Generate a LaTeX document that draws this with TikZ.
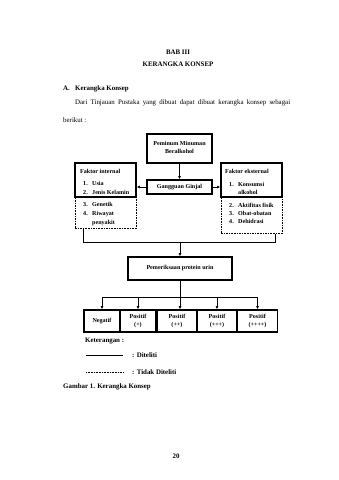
\documentclass[tikz,border=0pt]{standalone}
\usepackage{fontspec}
\setmainfont{Liberation Serif}
\usetikzlibrary{arrows.meta}
\begin{document}
\begin{tikzpicture}[x=1pt,y=-1pt,
  solidbox/.style={draw, line width=1.3pt, inner sep=0pt},
  dashbox/.style={draw, line width=1pt, dash pattern=on 1.6pt off 1pt, inner sep=0pt},
  conn/.style={line width=0.65pt},
  arr/.style={conn, -{Latex[length=3.2pt,width=2.8pt]}},
  body/.style={font=\fontsize{6.9}{8}\selectfont, inner sep=0pt},
  bodyb/.style={font=\fontsize{6.9}{8}\selectfont\bfseries, inner sep=0pt},
  small/.style={font=\fontsize{6.1}{7}\selectfont\bfseries, inner sep=0pt},
]
\useasboundingbox[fill=white] (0,0) rectangle (339,480);

% headings
\node[bodyb, anchor=base] (bab) at (178,54.5) {BAB III};
\node[bodyb, anchor=base] (judul) at (178,66.5) {KERANGKA KONSEP};
\node[bodyb, anchor=base west] (secA) at (63,90.5) {A.};
\node[bodyb, anchor=base west] (secT) at (75,90.5) {Kerangka Konsep};
\node[body, anchor=base west] (par1) at (75,104.5) {\makebox[215pt][s]{Dari Tinjauan Pustaka yang dibuat dapat dibuat kerangka konsep sebagai}};
\node[body, anchor=base west] (par2) at (63,122.5) {berikut :};

% boxes
\node[solidbox, minimum width=65pt, minimum height=29pt] (pem) at (179.5,148.5) {};
\node[small, align=center] (pemt) at (179.5,147.5) {Peminum Minuman\\[0.5pt]Beralkohol};
\node[solidbox, minimum width=65pt, minimum height=14pt] (gg) at (179.5,187) {};
\node[small] (ggt) at (179.5,187) {Gangguan Ginjal};

\node[solidbox, minimum width=61pt, minimum height=34pt] (fi) at (105.5,180) {};
\node[dashbox, minimum width=61pt, minimum height=31pt] (fid) at (105.5,212.5) {};
\node[solidbox, minimum width=61pt, minimum height=34pt] (fe) at (251.5,180) {};
\node[dashbox, minimum width=61pt, minimum height=36pt] (fed) at (251.5,215) {};

% internal text
\node[small, anchor=base west] (fi0) at (80,173) {Faktor internal};
\node[small, anchor=base west] (fi1n) at (83,185) {1.};
\node[small, anchor=base west] (fi1) at (92,185) {Usia};
\node[small, anchor=base west] (fi2n) at (83,194) {2.};
\node[small, anchor=base west] (fi2) at (92,194) {Jenis Kelamin};
\node[small, anchor=base west] (fi3n) at (83,206) {3.};
\node[small, anchor=base west] (fi3) at (92,206) {Genetik};
\node[small, anchor=base west] (fi4n) at (83,215) {4.};
\node[small, anchor=base west] (fi4) at (92,215) {Riwayat};
\node[small, anchor=base west] (fi4b) at (92,224) {penyakit};

% external text
\node[small, anchor=base west] (fe0) at (225,173) {Faktor eksternal};
\node[small, anchor=base west] (fe1n) at (229,186) {1.};
\node[small, anchor=base west] (fe1) at (238,186) {Konsumsi};
\node[small, anchor=base west] (fe1b) at (238,194) {alkohol};
\node[small, anchor=base west] (fe2n) at (229,207) {2.};
\node[small, anchor=base west] (fe2) at (238,207) {Aktifitas fisik};
\node[small, anchor=base west] (fe3n) at (229,215) {3.};
\node[small, anchor=base west] (fe3) at (238,215) {Obat-obatan};
\node[small, anchor=base west] (fe4n) at (229,223) {4.};
\node[small, anchor=base west] (fe4) at (238,223) {Dehidrasi};

\node[solidbox, minimum width=104pt, minimum height=23pt] (pu) at (180,268.5) {};
\node[small] (put) at (180,268.5) {Pemeriksaan protein urin};

% result boxes
\node[solidbox, minimum width=36pt, minimum height=22pt] (b1) at (102,321) {};
\node[solidbox, minimum width=35pt, minimum height=22pt] (b2) at (138,321) {};
\node[solidbox, minimum width=40pt, minimum height=22pt] (b3) at (177,321) {};
\node[solidbox, minimum width=40pt, minimum height=22pt] (b4) at (217,321) {};
\node[solidbox, minimum width=40pt, minimum height=22pt] (b5) at (257.5,321) {};
\node[small] (b1t) at (b1) {Negatif};
\node[small, align=center] (b2t) at (b2) {Positif\\[1pt](+)};
\node[small, align=center] (b3t) at (b3) {Positif\\[1pt](++)};
\node[small, align=center] (b4t) at (b4) {Positif\\[1pt](+++)};
\node[small, align=center] (b5t) at (b5) {Positif\\[1pt](++++)};

% connectors
\draw[arr] (pem.south) -- (gg.north);
\draw[arr] (gg.west) -- (gg.west -| fi.east);
\draw[arr] (gg.east) -- (gg.east -| fe.west);
\coordinate (jl) at (83,242);
\coordinate (jr) at (275,242);
\coordinate (jm) at (180,242);
\draw[conn] (jl |- fid.south) -- (jl) -- (jr) -- (jr |- fed.south);
\draw[arr] (jm) -- (pu.north);
\coordinate (hb) at (180,297);
\draw[arr] (pu.south) -- (pu.south |- b3.north);
\draw[conn] (b1.north |- hb) -- (b5.north |- hb);
\draw[arr] (b1.north |- hb) -- (b1.north);
\draw[arr] (b2.north |- hb) -- (b2.north);
\draw[arr] (b4.north |- hb) -- (b4.north);
\draw[arr] (b5.north |- hb) -- (b5.north);

% legend
\node[bodyb, anchor=base west] (ket) at (85,342.5) {Keterangan :};
\coordinate (l1a) at (86,355);
\coordinate (l1b) at (123,355);
\draw[conn] (l1a) -- (l1b);
\node[bodyb, anchor=base west] (ket1) at (132,357) {: Diteliti};
\coordinate (l2a) at (86,372);
\coordinate (l2b) at (123,372);
\draw[conn, dash pattern=on 1pt off 0.6pt] (l2a) -- (l2b);
\node[bodyb, anchor=base west] (ket2) at (132,374) {: Tidak Diteliti};
\node[bodyb, anchor=base west] (gam) at (63,388.5) {Gambar 1. Kerangka Konsep};
\node[bodyb, anchor=base] (pg) at (176,458) {20};
\end{tikzpicture}
\end{document}
